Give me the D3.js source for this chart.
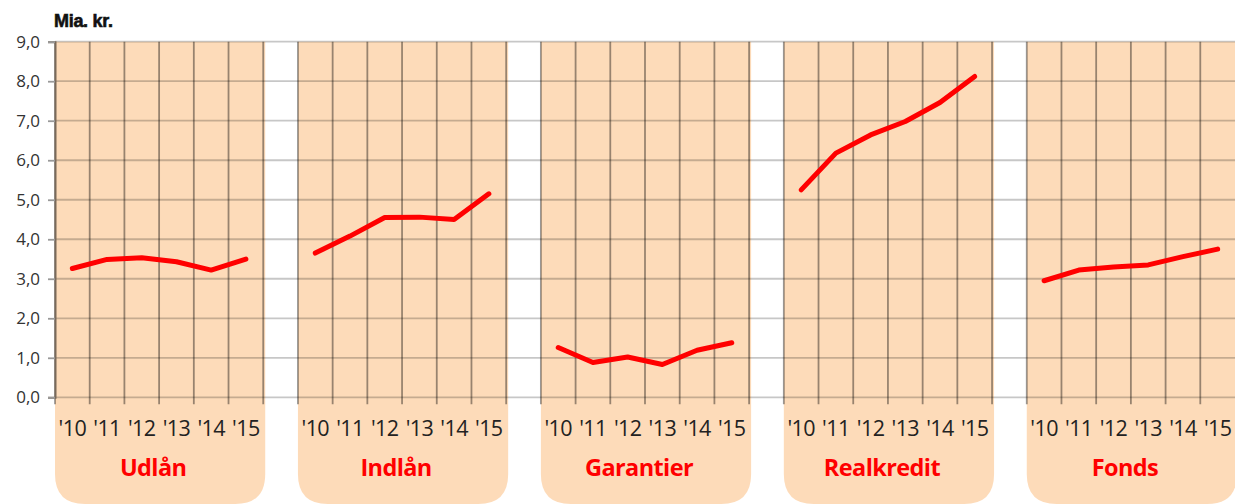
<!DOCTYPE html>
<html>
<head>
<meta charset="utf-8">
<script src="https://cdn.jsdelivr.net/npm/d3@7"></script>
<style>
  body { margin: 0; background: #fff; }
  svg { display: block; }
</style>
</head>
<body>
<svg width="1235" height="504"></svg>
<script>
// data (Mia. kr.)
var years = ["'10", "'11", "'12", "'13", "'14", "'15"];
var groups = ["Udlån", "Indlån", "Garantier", "Realkredit", "Fonds"];
var udlaan = [3.26, 3.49, 3.53, 3.43, 3.22, 3.50];
var indlaan = [3.65, 4.08, 4.55, 4.56, 4.50, 5.15];
var garantier = [1.26, 0.88, 1.02, 0.83, 1.19, 1.38];
var realkredit = [5.25, 6.18, 6.64, 6.98, 7.46, 8.12];
var fonds = [2.95, 3.22, 3.30, 3.35, 3.56, 3.75];
var yTicks = [0, 1, 2, 3, 4, 5, 6, 7, 8, 9];

var series = [udlaan, indlaan, garantier, realkredit, fonds];

var svg = d3.select("svg");
var margin = { top: 42, left: 55, bottom: 397 };
var width = 1235, height = 504;

// one category per year, plus an empty one between the groups
var cats = [];
groups.forEach(function(g, i) {
  years.forEach(function(y) { cats.push(g + y); });
  if (i < groups.length - 1) cats.push(g + "_gap");
});

var xScale = d3.scaleBand().domain(cats).range([margin.left, width]).padding(0);
var yScale = d3.scaleLinear().domain([0, 9]).range([397.3, 41.7]);
var bw = xScale.bandwidth();

// orange panels with rounded bottom corners
var r = 30;
groups.forEach(function(g) {
  var x0 = xScale(g + years[0]);
  var x1 = xScale(g + years[years.length - 1]) + bw + 2;
  var y0 = yScale(9), y1 = height;
  var p = "M" + x0 + "," + y0 + "H" + x1 + "V" + (y1 - r) +
    "Q" + x1 + "," + y1 + " " + (x1 - r) + "," + y1 +
    "H" + (x0 + r) + "Q" + x0 + "," + y1 + " " + x0 + "," + (y1 - r) + "Z";
  svg.append("path").attr("d", p).attr("fill", "#FDDBB9");
});

// horizontal gridlines
svg.append("g")
  .selectAll("line")
  .data(yTicks)
  .enter()
  .append("line")
  .attr("x1", margin.left)
  .attr("x2", width)
  .attr("y1", function(d) { return yScale(d); })
  .attr("y2", function(d) { return yScale(d); })
  .attr("stroke", "rgba(0,0,0,0.22)")
  .attr("stroke-width", 1.8);

// vertical gridlines at category boundaries (with ticks below the axis)
svg.append("g")
  .selectAll("line")
  .data(cats)
  .enter()
  .append("line")
  .attr("x1", function(d) { return xScale(d); })
  .attr("x2", function(d) { return xScale(d); })
  .attr("y1", yScale(9))
  .attr("y2", yScale(0) + 7)
  .attr("stroke", "rgba(0,0,0,0.4)")
  .attr("stroke-width", 1.8);

// y axis
var yAxis = svg.append("g")
  .attr("transform", "translate(" + margin.left + ",0)")
  .call(d3.axisLeft(yScale).tickValues(yTicks).tickSize(7).tickPadding(8)
    .tickFormat(function(d) { return d3.format(".1f")(d).replace(".", ","); }));
yAxis.select(".domain").attr("stroke", "#7a6a5a").attr("stroke-width", 2);
yAxis.selectAll(".tick line").attr("stroke", "#999").attr("stroke-width", 1.8);
yAxis.selectAll("text")
  .attr("font-family", "Open Sans, sans-serif")
  .attr("font-size", "17px")
  .attr("fill", "#333");

// year labels under each group
svg.append("g")
  .selectAll("text")
  .data(groups.flatMap(function(g) { return years.map(function(y) { return [g, y]; }); }))
  .enter()
  .append("text")
  .attr("x", function(d) { return xScale(d[0] + d[1]) + bw / 2; })
  .attr("y", 436)
  .attr("text-anchor", "middle")
  .attr("font-family", "Open Sans, sans-serif")
  .attr("font-size", "21.5px")
  .attr("letter-spacing", "-0.6px")
  .attr("fill", "#222")
  .text(function(d) { return d[1]; });

// group names
svg.append("g")
  .selectAll("text")
  .data(groups)
  .enter()
  .append("text")
  .attr("x", function(g) { return xScale(g + years[3]) - 6; })
  .attr("y", 476)
  .attr("text-anchor", "middle")
  .attr("font-family", "Open Sans, sans-serif")
  .attr("font-weight", "bold")
  .attr("font-size", "23.5px")
  .attr("letter-spacing", "-0.6px")
  .attr("fill", "#FF0000")
  .text(function(g) { return g; });

// the red lines
var line = d3.line()
  .x(function(d) { return xScale(d.cat) + bw / 2; })
  .y(function(d) { return yScale(d.v); });

groups.forEach(function(g, i) {
  var pts = series[i].map(function(v, j) { return { cat: g + years[j], v: v }; });
  svg.append("path")
    .datum(pts)
    .attr("d", line)
    .attr("fill", "none")
    .attr("stroke", "#FF0000")
    .attr("stroke-width", 5)
    .attr("stroke-linecap", "round")
    .attr("stroke-linejoin", "round");
});

// unit title
svg.append("text")
  .attr("x", 54)
  .attr("y", 27)
  .attr("font-family", "Liberation Sans, Arial, sans-serif")
  .attr("font-weight", "bold")
  .attr("font-size", "18px")
  .attr("letter-spacing", "-0.3px")
  .attr("stroke", "#111")
  .attr("stroke-width", 0.6)
  .attr("fill", "#111")
  .text("Mia. kr.");
</script>
</body>
</html>
